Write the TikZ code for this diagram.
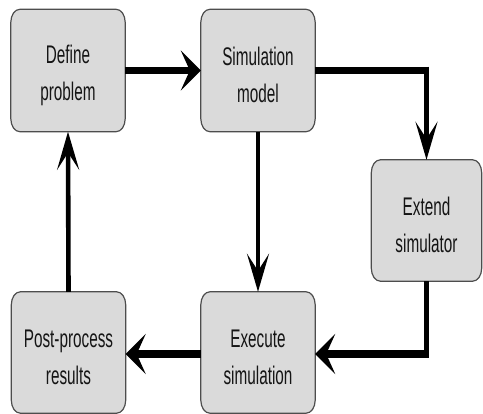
\documentclass[tikz,border=0pt]{standalone}
\usepackage{fontspec}
\setmainfont{Liberation Sans}
\newfontfamily\lblfont[FakeStretch=0.6]{Liberation Sans}
\usetikzlibrary{arrows.meta,calc}
\definecolor{boxfill}{HTML}{DADADA}
\definecolor{boxedge}{HTML}{4D4D4D}
\definecolor{txtcol}{HTML}{151515}
\pgfdeclarelayer{bg}
\pgfsetlayers{bg,main}
\tikzset{
  stepbox/.style={minimum width=114pt, minimum height=122pt, inner sep=0pt},
  lbl/.style={yshift=-4.5pt, inner sep=0pt, align=center, text=txtcol,
    font=\lblfont\fontsize{25.5pt}{37pt}\selectfont},
  boxshape/.style={draw=boxedge, fill=boxfill, line width=1.2pt},
  hline/.style={line width=7.5pt, black},
  vline/.style={line width=4.6pt, black},
  harrow/.style={-{Stealth[length=20pt,width=40pt,inset=9pt]}},
  varrow/.style={-{Stealth[length=38pt,width=22pt,inset=17pt]}}
}
\newcommand\roundbox[1]{%
  \draw[boxshape] ([xshift=9pt]#1.north west) -- ([xshift=-9pt]#1.north east)
    arc[start angle=90, end angle=0, x radius=9pt, y radius=13pt]
    -- ([yshift=13pt]#1.south east)
    arc[start angle=0, end angle=-90, x radius=9pt, y radius=13pt]
    -- ([xshift=9pt]#1.south west)
    arc[start angle=270, end angle=180, x radius=9pt, y radius=13pt]
    -- ([yshift=-13pt]#1.north west)
    arc[start angle=180, end angle=90, x radius=9pt, y radius=13pt]
    -- cycle;}
\begin{document}
\begin{tikzpicture}[x=1pt, y=-1pt]
\useasboundingbox (0,0) rectangle (483,414);
\node[stepbox, label={[lbl]center:{Define\\problem}}] (def) at (68,70.5) {};
\node[stepbox, label={[lbl]center:{Simulation\\model}}] (sim) at (258,70.5) {};
\node[stepbox, minimum width=110pt, minimum height=121pt,
      label={[lbl]center:{Extend\\simulator}}] (ext) at (426.5,220.5) {};
\node[stepbox, minimum height=121pt,
      label={[lbl]center:{Post-process\\results}}] (post) at (68.5,352.5) {};
\node[stepbox, minimum height=121pt,
      label={[lbl]center:{Execute\\simulation}}] (exe) at (258,352.5) {};
\begin{pgfonlayer}{bg}
\roundbox{def}
\roundbox{sim}
\roundbox{ext}
\roundbox{post}
\roundbox{exe}
\end{pgfonlayer}
% connectors
\draw[hline, harrow] (def.east) -- (sim.west);
\coordinate (c1) at (ext.north |- sim.east);
\draw[hline] (sim.east) -- ([xshift=2.3pt]c1);
\draw[vline, varrow] ([yshift=3.75pt]c1) -- (ext.north);
\draw[vline, varrow] (sim.south) -- (exe.north);
\coordinate (c2) at ([yshift=-1.5pt]ext.south |- exe.east);
\draw[vline] (ext.south) -- ([yshift=-3.75pt]c2);
\draw[hline, harrow] ([xshift=2.3pt]c2) -- (c2 -| exe.east);
\draw[hline, harrow] (exe.west |- c2) -- (c2 -| post.east);
\draw[vline, varrow] (post.north) -- (def.south);
\end{tikzpicture}
\end{document}
